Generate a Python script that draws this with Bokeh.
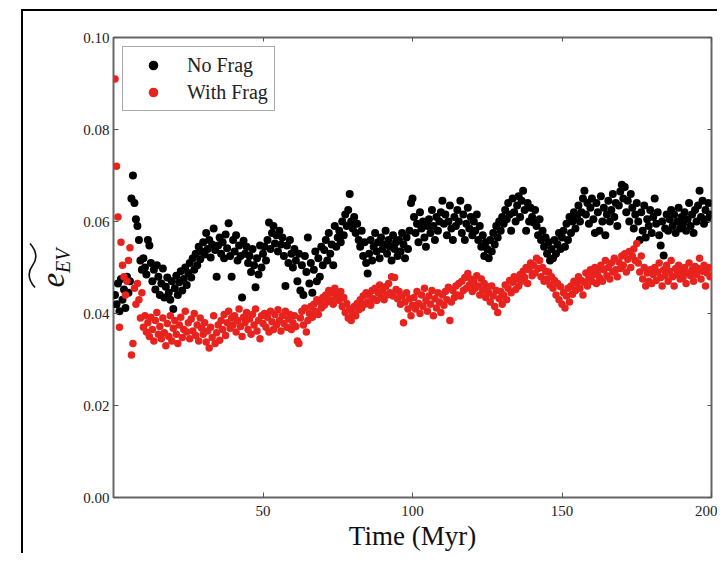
import numpy as np
from bokeh.plotting import figure
from bokeh.layouts import row
from bokeh.models import (Range1d, FixedTicker, PrintfTickFormatter, LinearAxis, Div,
                          Legend, LegendItem, CustomJSTickFormatter)
from bokeh.embed import file_html
from bokeh.resources import INLINE

# ---- data ----
x_ticks = [50, 100, 150, 200]
y_ticks = [0.00, 0.02, 0.04, 0.06, 0.08, 0.10]

# time samples every 0.5 Myr (0.5 ... 199.5)
time_myr = np.arange(0.5, 200.0, 0.5)

no_frag = [
    0.0440, 0.0420, 0.0465, 0.0405, 0.0475, 0.0430, 0.0452, 0.0412, 0.0480, 0.0445,
    0.0470, 0.0650, 0.0700, 0.0640, 0.0605, 0.0590, 0.0560, 0.0515, 0.0495, 0.0520,
    0.0500, 0.0485, 0.0560, 0.0548, 0.0510, 0.0470, 0.0495, 0.0452, 0.0505, 0.0480,
    0.0440, 0.0465, 0.0498, 0.0435, 0.0458, 0.0478, 0.0445, 0.0430, 0.0470, 0.0410,
    0.0455, 0.0482, 0.0440, 0.0468, 0.0492, 0.0450, 0.0475, 0.0500, 0.0462, 0.0488,
    0.0510, 0.0478, 0.0520, 0.0495, 0.0530, 0.0505, 0.0545, 0.0518, 0.0535, 0.0555,
    0.0528, 0.0575, 0.0540, 0.0560, 0.0522, 0.0550, 0.0585, 0.0538, 0.0480, 0.0548,
    0.0565, 0.0530, 0.0555, 0.0520, 0.0572, 0.0542, 0.0596, 0.0525, 0.0480, 0.0560,
    0.0535, 0.0570, 0.0515, 0.0548, 0.0525, 0.0435, 0.0558, 0.0530, 0.0545, 0.0510,
    0.0525, 0.0490, 0.0540, 0.0505, 0.0457, 0.0520, 0.0485, 0.0548, 0.0500, 0.0530,
    0.0545, 0.0515, 0.0560, 0.0598, 0.0540, 0.0575, 0.0590, 0.0552, 0.0570, 0.0535,
    0.0580, 0.0550, 0.0565, 0.0525, 0.0460, 0.0548, 0.0510, 0.0560, 0.0530, 0.0500,
    0.0540, 0.0515, 0.0470, 0.0530, 0.0450, 0.0505, 0.0440, 0.0525, 0.0490, 0.0565,
    0.0465, 0.0510, 0.0445, 0.0495, 0.0535, 0.0470, 0.0520, 0.0480, 0.0545, 0.0505,
    0.0538, 0.0560, 0.0515, 0.0575, 0.0530, 0.0550, 0.0505, 0.0590, 0.0545, 0.0565,
    0.0580, 0.0555, 0.0600, 0.0570, 0.0615, 0.0590, 0.0625, 0.0660, 0.0600, 0.0585,
    0.0610, 0.0575, 0.0595, 0.0560, 0.0545, 0.0580, 0.0525, 0.0555, 0.0510, 0.0487,
    0.0530, 0.0560, 0.0515, 0.0545, 0.0575, 0.0535, 0.0555, 0.0520, 0.0565, 0.0540,
    0.0550, 0.0580, 0.0530, 0.0560, 0.0545, 0.0515, 0.0570, 0.0540, 0.0555, 0.0525,
    0.0560, 0.0535, 0.0575, 0.0550, 0.0520, 0.0565, 0.0540, 0.0580, 0.0640, 0.0650,
    0.0610, 0.0575, 0.0595, 0.0555, 0.0620, 0.0585, 0.0600, 0.0565, 0.0545, 0.0590,
    0.0605, 0.0575, 0.0625, 0.0590, 0.0560, 0.0610, 0.0580, 0.0600, 0.0620, 0.0645,
    0.0595, 0.0615, 0.0570, 0.0600, 0.0635, 0.0585, 0.0560, 0.0610, 0.0590, 0.0625,
    0.0600, 0.0645, 0.0575, 0.0615, 0.0560, 0.0595, 0.0630, 0.0585, 0.0610, 0.0570,
    0.0600, 0.0580, 0.0615, 0.0560, 0.0590, 0.0545, 0.0570, 0.0525, 0.0555, 0.0540,
    0.0520, 0.0560, 0.0535, 0.0575, 0.0550, 0.0590, 0.0565, 0.0600, 0.0580, 0.0610,
    0.0595, 0.0625, 0.0605, 0.0640, 0.0615, 0.0580, 0.0650, 0.0620, 0.0600, 0.0635,
    0.0655, 0.0610, 0.0645, 0.0667, 0.0625, 0.0580, 0.0640, 0.0600, 0.0630, 0.0610,
    0.0598, 0.0625, 0.0590, 0.0570, 0.0605, 0.0560, 0.0580, 0.0545, 0.0565, 0.0530,
    0.0555, 0.0515, 0.0540, 0.0520, 0.0560, 0.0530, 0.0550, 0.0575, 0.0540, 0.0565,
    0.0580, 0.0545, 0.0595, 0.0560, 0.0610, 0.0575, 0.0600, 0.0620, 0.0585, 0.0610,
    0.0635, 0.0600, 0.0620, 0.0650, 0.0667, 0.0615, 0.0640, 0.0595, 0.0630, 0.0650,
    0.0605, 0.0575, 0.0640, 0.0620, 0.0580, 0.0655, 0.0600, 0.0630, 0.0570, 0.0615,
    0.0645, 0.0600, 0.0625, 0.0660, 0.0610, 0.0640, 0.0590, 0.0635, 0.0665, 0.0680,
    0.0650, 0.0675, 0.0620, 0.0645, 0.0600, 0.0660, 0.0630, 0.0585, 0.0615, 0.0640,
    0.0600, 0.0560, 0.0620, 0.0580, 0.0635, 0.0565, 0.0605, 0.0590, 0.0625, 0.0575,
    0.0610, 0.0650, 0.0595, 0.0620, 0.0570, 0.0548, 0.0600, 0.0526, 0.0585, 0.0615,
    0.0580, 0.0605, 0.0625, 0.0590, 0.0615, 0.0575, 0.0600, 0.0630, 0.0585, 0.0610,
    0.0595, 0.0620, 0.0580, 0.0605, 0.0640, 0.0590, 0.0615, 0.0575, 0.0625, 0.0600,
    0.0635, 0.0667, 0.0610, 0.0645, 0.0595, 0.0625, 0.0605, 0.0640, 0.0615,
]

with_frag = [
    0.0910, 0.0720, 0.0610, 0.0370, 0.0555, 0.0505, 0.0480, 0.0440, 0.0470, 0.0515,
    0.0543, 0.0310, 0.0335, 0.0455, 0.0420, 0.0465, 0.0430, 0.0390, 0.0445, 0.0370,
    0.0395, 0.0360, 0.0380, 0.0350, 0.0392, 0.0365, 0.0340, 0.0385, 0.0402, 0.0355,
    0.0372, 0.0345, 0.0390, 0.0358, 0.0330, 0.0378, 0.0350, 0.0395, 0.0340, 0.0368,
    0.0385, 0.0355, 0.0335, 0.0375, 0.0392, 0.0348, 0.0365, 0.0405, 0.0360, 0.0380,
    0.0345, 0.0388, 0.0362, 0.0400, 0.0352, 0.0375, 0.0340, 0.0390, 0.0368, 0.0355,
    0.0380, 0.0338, 0.0362, 0.0325, 0.0370, 0.0348, 0.0395, 0.0335, 0.0358, 0.0375,
    0.0342, 0.0385, 0.0365, 0.0398, 0.0352, 0.0380, 0.0405, 0.0368, 0.0390, 0.0375,
    0.0395, 0.0360, 0.0385, 0.0410, 0.0372, 0.0350, 0.0392, 0.0380, 0.0402, 0.0365,
    0.0388, 0.0355, 0.0398, 0.0375, 0.0410, 0.0362, 0.0385, 0.0345, 0.0395, 0.0378,
    0.0400, 0.0370, 0.0392, 0.0360, 0.0405, 0.0382, 0.0365, 0.0398, 0.0375, 0.0408,
    0.0385, 0.0362, 0.0395, 0.0378, 0.0405, 0.0370, 0.0388, 0.0398, 0.0365, 0.0380,
    0.0395, 0.0372, 0.0340, 0.0335, 0.0390, 0.0405, 0.0375, 0.0412, 0.0360, 0.0385,
    0.0400, 0.0415, 0.0392, 0.0420, 0.0405, 0.0430, 0.0398, 0.0425, 0.0412, 0.0435,
    0.0418, 0.0440, 0.0425, 0.0450, 0.0430, 0.0445, 0.0420, 0.0455, 0.0435, 0.0442,
    0.0428, 0.0448, 0.0415, 0.0435, 0.0402, 0.0422, 0.0390, 0.0410, 0.0385, 0.0400,
    0.0415, 0.0395, 0.0422, 0.0408, 0.0430, 0.0412, 0.0438, 0.0420, 0.0445, 0.0425,
    0.0440, 0.0418, 0.0450, 0.0432, 0.0455, 0.0428, 0.0445, 0.0462, 0.0435, 0.0450,
    0.0430, 0.0458, 0.0440, 0.0465, 0.0445, 0.0480, 0.0438, 0.0478, 0.0452, 0.0432,
    0.0448, 0.0420, 0.0438, 0.0380, 0.0425, 0.0445, 0.0410, 0.0432, 0.0395, 0.0418,
    0.0435, 0.0410, 0.0448, 0.0422, 0.0400, 0.0440, 0.0415, 0.0455, 0.0428, 0.0405,
    0.0438, 0.0420, 0.0450, 0.0395, 0.0432, 0.0412, 0.0445, 0.0425, 0.0402, 0.0440,
    0.0418, 0.0448, 0.0430, 0.0457, 0.0385, 0.0425, 0.0450, 0.0435, 0.0460, 0.0440,
    0.0465, 0.0438, 0.0470, 0.0450, 0.0478, 0.0455, 0.0487, 0.0462, 0.0475, 0.0448,
    0.0470, 0.0455, 0.0482, 0.0460, 0.0440, 0.0475, 0.0450, 0.0465, 0.0435, 0.0458,
    0.0445, 0.0425, 0.0460, 0.0438, 0.0415, 0.0450, 0.0402, 0.0432, 0.0448, 0.0420,
    0.0440, 0.0462, 0.0430, 0.0455, 0.0472, 0.0445, 0.0468, 0.0480, 0.0452, 0.0475,
    0.0460, 0.0485, 0.0470, 0.0492, 0.0478, 0.0500, 0.0465, 0.0495, 0.0510, 0.0482,
    0.0505, 0.0488, 0.0520, 0.0498, 0.0515, 0.0480, 0.0500, 0.0470, 0.0492, 0.0475,
    0.0490, 0.0462, 0.0480, 0.0455, 0.0472, 0.0440, 0.0465, 0.0430, 0.0458, 0.0420,
    0.0445, 0.0412, 0.0438, 0.0455, 0.0425, 0.0460, 0.0442, 0.0470, 0.0450, 0.0465,
    0.0480, 0.0455, 0.0472, 0.0440, 0.0468, 0.0488, 0.0460, 0.0478, 0.0495, 0.0470,
    0.0485, 0.0500, 0.0465, 0.0492, 0.0478, 0.0505, 0.0470, 0.0495, 0.0515, 0.0482,
    0.0500, 0.0475, 0.0510, 0.0490, 0.0520, 0.0495, 0.0480, 0.0512, 0.0498, 0.0525,
    0.0505, 0.0530, 0.0490, 0.0518, 0.0535, 0.0500, 0.0525, 0.0540, 0.0515, 0.0552,
    0.0510, 0.0490, 0.0525, 0.0475, 0.0500, 0.0460, 0.0488, 0.0470, 0.0495, 0.0465,
    0.0485, 0.0500, 0.0472, 0.0490, 0.0510, 0.0478, 0.0460, 0.0495, 0.0482, 0.0505,
    0.0470, 0.0492, 0.0515, 0.0480, 0.0460, 0.0498, 0.0485, 0.0505, 0.0475, 0.0492,
    0.0478, 0.0500, 0.0465, 0.0488, 0.0510, 0.0482, 0.0495, 0.0470, 0.0502, 0.0485,
    0.0498, 0.0520, 0.0475, 0.0492, 0.0505, 0.0460, 0.0488, 0.0500, 0.0480,
]

series_labels = ["No Frag", "With Frag"]
series_colors = ["black", "#e8231e"]

SERIF = "Liberation Serif"

p = figure(frame_width=598, frame_height=460,
           x_range=Range1d(0, 200), y_range=Range1d(0, 0.1),
           output_backend="svg", toolbar_location=None,
           min_border_left=42, min_border_top=26, min_border_right=6, min_border_bottom=40)
p.margin = (0, 0, 0, 0)
p.grid.visible = False
p.background_fill_color = "white"
p.border_fill_color = "white"
p.outline_line_color = "#666666"
p.outline_line_width = 2

r1 = p.scatter(time_myr, no_frag, size=8, color=series_colors[0], line_width=0)
r2 = p.scatter(time_myr, with_frag, size=7.5, color=series_colors[1], line_width=0)

for ax in (p.xaxis[0], p.yaxis[0]):
    ax.axis_line_color = None
    ax.major_tick_in = 5
    ax.major_tick_out = 0
    ax.minor_tick_in = 0
    ax.minor_tick_out = 0
    ax.major_tick_line_color = "#555555"
    ax.major_label_text_font = SERIF
    ax.major_label_text_font_size = "15px"
    ax.major_label_text_color = "#222222"

p.xaxis.ticker = FixedTicker(ticks=x_ticks)
p.yaxis.ticker = FixedTicker(ticks=y_ticks)
p.yaxis.formatter = PrintfTickFormatter(format="%.2f")
p.xaxis.major_label_standoff = 8
p.yaxis.major_label_standoff = 4
p.xaxis.axis_label = "Time (Myr)"
p.xaxis.axis_label_text_font = SERIF
p.xaxis.axis_label_text_font_size = "27px"
p.xaxis.axis_label_text_font_style = "normal"
p.xaxis.axis_label_text_color = "#111111"
p.xaxis.axis_label_standoff = 2

# mirrored ticks on top and right
blank = CustomJSTickFormatter(code="return ''")
top = LinearAxis(ticker=FixedTicker(ticks=x_ticks), formatter=blank)
right = LinearAxis(ticker=FixedTicker(ticks=y_ticks), formatter=blank)
for ax in (top, right):
    ax.axis_line_color = None
    ax.major_tick_in = 4
    ax.major_tick_out = 0
    ax.minor_tick_in = 0
    ax.minor_tick_out = 0
    ax.major_tick_line_color = "#555555"
    ax.major_label_standoff = 0
p.add_layout(top, "above")
p.add_layout(right, "right")

legend = Legend(items=[LegendItem(label=series_labels[0], renderers=[r1]),
                       LegendItem(label=series_labels[1], renderers=[r2])],
                location="top_left", margin=9)
legend.border_line_color = "#555555"
legend.border_line_width = 1.5
legend.label_text_font = SERIF
legend.label_text_font_size = "20px"
legend.label_text_color = "#222222"
legend.glyph_width = 48
legend.glyph_height = 24
legend.label_height = 24
legend.spacing = 3
legend.padding = 6
legend.label_standoff = 10
legend.background_fill_alpha = 1
p.add_layout(legend)

# y-axis label: wide tilde over e_EV, rotated (HTML text)
ylabel_html = (
    '<div style="position:relative;width:48px;height:540px;">'
    '<div style="position:absolute;left:26px;top:257px;transform:translate(-50%,-50%) rotate(-90deg);'
    'font-family:\'Liberation Serif\';font-style:italic;color:#111;white-space:nowrap;line-height:1;">'
    '<span style="position:relative;display:inline-block;padding-top:9px;">'
    '<svg style="position:absolute;left:-1px;top:0px;" width="46" height="9" viewBox="0 0 46 9">'
    '<path d="M1,7 C9,0 17,0 23,4.5 C29,9 37,9 45,2" fill="none" stroke="#111" stroke-width="1.6"/>'
    '</svg>'
    '<span style="font-size:33px;">e</span>'
    '<span style="font-size:20px;position:relative;top:6px;">EV</span>'
    '</span></div></div>'
)
ylabel = Div(text=ylabel_html, width=48, height=540)
ylabel.margin = (0, 0, 0, 0)

layout = row(ylabel, p)
layout.margin = (9, 0, 0, 21)
layout.styles = {"border-left": "2px solid black", "border-top": "2px solid black"}

open("out.html", "w").write(file_html(layout, INLINE))
